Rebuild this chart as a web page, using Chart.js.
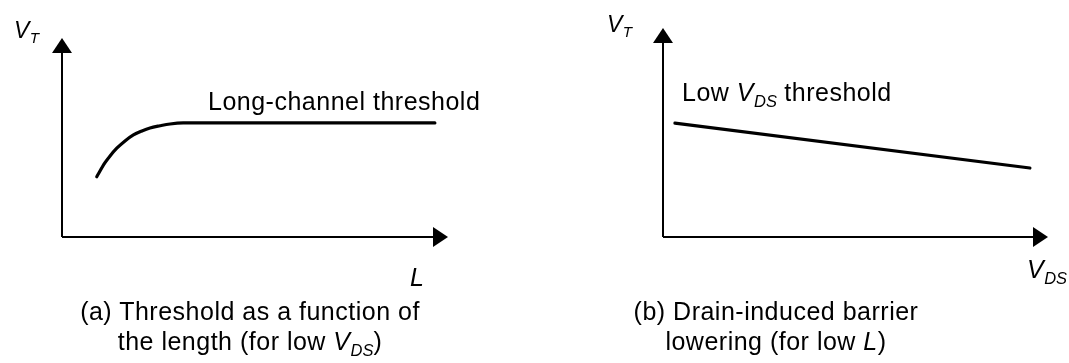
<!DOCTYPE html>
<html>
<head>
<meta charset="utf-8">
<script src="https://cdn.jsdelivr.net/npm/chart.js@4.4.1/dist/chart.umd.min.js"></script>
<style>
  html, body { margin: 0; padding: 0; background: #fff; }
  #wrap { position: relative; width: 1069px; height: 363px; overflow: hidden;
          font-family: "Liberation Sans", Arial, Helvetica, sans-serif; color: #000; }
  canvas { position: absolute; top: 0; }
  #chartA { left: 0; }
  #chartB { left: 534px; }
  .lbl { position: absolute; white-space: nowrap; line-height: 1; letter-spacing: 0.5px; }
  .cap { position: absolute; white-space: nowrap; line-height: 30px; font-size: 25px;
         letter-spacing: 0.5px; text-align: center; transform: translateX(-50%); }
  .it { font-style: italic; }
  sub { font-size: 0.66em; font-style: italic; vertical-align: -0.36em; line-height: 0; letter-spacing: 0; }
</style>
</head>
<body>
<div id="wrap">
  <canvas id="chartA" width="534" height="363"></canvas>
  <canvas id="chartB" width="535" height="363"></canvas>

  <!-- panel (a) labels -->
  <div class="lbl it" style="left:14px; top:19px; font-size:23px;">V<sub>T</sub></div>
  <div class="lbl" style="left:208px; top:89px; font-size:25px;">Long-channel threshold</div>
  <div class="lbl it" style="left:410px; top:265px; font-size:25px;">L</div>
  <div class="cap" style="left:250px; top:296px;">(a) Threshold as a function of<br>the length (for low <span class="it">V</span><sub>DS</sub>)</div>

  <!-- panel (b) labels -->
  <div class="lbl it" style="left:607px; top:13px; font-size:23px;">V<sub>T</sub></div>
  <div class="lbl" style="left:682px; top:80px; font-size:25px;">Low <span class="it">V</span><sub>DS</sub> threshold</div>
  <div class="lbl it" style="left:1027px; top:257px; font-size:25px;">V<sub>DS</sub></div>
  <div class="cap" style="left:776px; top:296px;">(b) Drain-induced barrier<br>lowering (for low <span class="it">L</span>)</div>
</div>

<script>
// Threshold voltage vs channel length (arbitrary units)
const lengthValues = [0.90, 1.11, 1.24, 1.42, 1.64, 1.85, 2.07, 2.28, 2.54, 2.80, 3.14, 9.66];
const thresholdVsLength = [3.03, 3.72, 4.06, 4.46, 4.84, 5.13, 5.33, 5.48, 5.59, 5.68, 5.73, 5.73];

// Threshold voltage vs drain-source voltage (DIBL)
const vdsValues = [0.31, 9.53];
const thresholdVsVds = [5.45, 3.30];

const AXIS_MIN = 0;
const AXIS_MAX = 10;

// Draws the two axes as lines ending in filled arrowheads
const arrowAxesPlugin = {
    id: 'arrowAxes',
    afterDraw(chart) {
        const { ctx, chartArea } = chart;
        const { left, right, top, bottom } = chartArea;
        const headLen = 15;
        const headHalf = 10;
        ctx.save();
        ctx.strokeStyle = '#000';
        ctx.fillStyle = '#000';
        ctx.lineWidth = 2;

        ctx.beginPath();
        ctx.moveTo(left, bottom);
        ctx.lineTo(left, top + headLen);
        ctx.moveTo(left, bottom);
        ctx.lineTo(right - headLen, bottom);
        ctx.stroke();

        ctx.beginPath();
        ctx.moveTo(left, top);
        ctx.lineTo(left - headHalf, top + headLen);
        ctx.lineTo(left + headHalf, top + headLen);
        ctx.closePath();
        ctx.fill();

        ctx.beginPath();
        ctx.moveTo(right, bottom);
        ctx.lineTo(right - headLen, bottom - headHalf);
        ctx.lineTo(right - headLen, bottom + headHalf);
        ctx.closePath();
        ctx.fill();
        ctx.restore();
    },
};

function makePoints(xs, ys) {
    return xs.map((x, i) => ({ x: x, y: ys[i] }));
}

function buildChart(canvasId, xs, ys, padding) {
    const ctx = document.getElementById(canvasId).getContext('2d');
    return new Chart(ctx, {
        type: 'line',
        data: {
            datasets: [
                {
                    data: makePoints(xs, ys),
                    borderColor: '#000',
                    borderWidth: 3.2,
                    borderCapStyle: 'round',
                    pointRadius: 0,
                    cubicInterpolationMode: 'monotone',
                    fill: false,
                },
            ],
        },
        options: {
            responsive: false,
            animation: false,
            layout: { padding: padding },
            plugins: {
                legend: { display: false },
                tooltip: { enabled: false },
                title: { display: false },
            },
            scales: {
                x: { type: 'linear', min: AXIS_MIN, max: AXIS_MAX, display: false },
                y: { type: 'linear', min: AXIS_MIN, max: AXIS_MAX, display: false },
            },
        },
        plugins: [arrowAxesPlugin],
    });
}

buildChart('chartA', lengthValues, thresholdVsLength, { left: 62, right: 86, top: 38, bottom: 126 });
buildChart('chartB', vdsValues, thresholdVsVds, { left: 129, right: 21, top: 28, bottom: 126 });
</script>
</body>
</html>
